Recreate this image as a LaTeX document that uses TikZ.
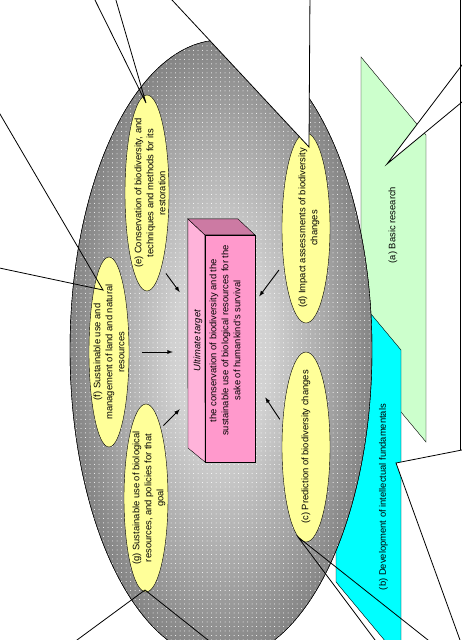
\documentclass[tikz,border=0pt]{standalone}
\usepackage{fontspec}
\setmainfont{Liberation Sans}
\usetikzlibrary{shapes.geometric,patterns.meta,calc}

\definecolor{goalyellow}{HTML}{FFFF99}
\definecolor{frontpink}{HTML}{FF99CC}
\definecolor{toppink}{HTML}{CC7AA3}
\definecolor{sidepink}{HTML}{FFB3DA}
\definecolor{basicgreen}{HTML}{CCFFCC}
\definecolor{fundcyan}{HTML}{00FFFF}

\pgfdeclareradialshading{eggglow}{\pgfpoint{0bp}{0bp}}{color(0bp)=(gray!30); color(8bp)=(gray!36); color(18bp)=(gray!70); color(26bp)=(gray); color(50bp)=(gray)}

\tikzset{
  goal/.style={ellipse, draw, fill=goalyellow, inner sep=0pt, minimum width=46pt, minimum height=192pt},
  goaltext/.style={rotate=90, align=center, inner sep=0pt, font=\fontsize{9.4}{12}\selectfont},
  feed/.style={->, line width=0.9pt},
  callout/.style={line width=0.8pt}
}

\begin{document}
\begin{tikzpicture}[x=1pt, y=-1pt, >=latex]
\useasboundingbox (0,0) rectangle (462,640);
\clip (0,0) rectangle (462,640);

% research layers behind the egg
\filldraw[fill=basicgreen] (361,57) -- (426,135) -- (426,442) -- (361,364) -- cycle;
\filldraw[fill=fundcyan] (336,272) -- (401,350) -- (401,660) -- (336,582) -- cycle;
\node[goaltext] (basic) at (393,225) {(a) Basic research};
\node[goaltext] (fund) at (383.5,497) {(b) Development of intellectual fundamentals};

% the egg
\shadedraw[shading=eggglow] (221,350) ellipse [x radius=151, y radius=310];
\fill[pattern={Dots[radius=0.5pt, distance=4.5pt]}, pattern color=white] (221,350) ellipse [x radius=151, y radius=310];
\draw (221,350) ellipse [x radius=151, y radius=310];

% goals
\node[goal, minimum width=44pt, minimum height=196pt] (e) at (147,193) {};
\node[goal, minimum width=48pt, minimum height=190pt] (d) at (306,228) {};
\node[goal, minimum width=40pt, minimum height=190pt] (f) at (109,352) {};
\node[goal, minimum width=44pt, minimum height=188pt] (g) at (146,498) {};
\node[goal, minimum width=48pt, minimum height=190pt] (c) at (306,447) {};

\node[goaltext] at ([xshift=3pt]e.center) {(e) Conservation of biodiversity, and\\techniques and methods for its\\restoration};
\node[goaltext] at ([xshift=3pt]d.center) {(d) Impact assessments of biodiversity\\changes};
\node[goaltext] at (f.center) {(f) Sustainable use and\\management of land and natural\\resources};
\node[goaltext] at ([xshift=3pt]g.center) {(g) Sustainable use of biological\\resources, and policies for that\\goal};
\node[goaltext] at (c.center) {(c) Prediction of biodiversity changes};

% ultimate target box
\node[minimum width=67pt, minimum height=243pt, inner sep=0pt] (target) at (221.5,340.5) {};
\filldraw[fill=sidepink] (target.north west) -- ++(17,16) -- (205,462) -- (188,448) -- cycle;
\filldraw[fill=toppink] (target.north west) -- ++(50,0) -- ++(17,16) -- ++(-50,0) -- cycle;
\filldraw[fill=frontpink] ([shift={(17,16)}]target.north west) rectangle (target.south east);
\node[goaltext] at ([xshift=-4.5pt]target.center) {\textit{Ultimate target}\\[4pt]the conservation of biodiversity and the\\sustainable use of biological resources for the\\sake of humankind's survival};

% arrows into the target
\draw[feed, shorten <=7.5pt, shorten >=13.6pt] (e.-79) -- (target.132);
\draw[feed, shorten <=7.7pt, shorten >=6.7pt] (d.-122) -- (target.49);
\draw[feed, shorten <=13pt, shorten >=15pt] (f.east) -- (f.east -| target.west);
\draw[feed, shorten <=3.5pt, shorten >=11.3pt] (g.78) -- (target.-119);
\draw[feed, shorten <=5pt, shorten >=18.3pt] (c.135) -- (target.-51);

% callout tails
\coordinate (tipE) at (146,103);
\coordinate (tipF) at (103,290);
\coordinate (tipG) at (145,590);
\coordinate (tipC) at (298,537);
\coordinate (tipD) at (309,147);
\coordinate (tipA) at (387,164);
\coordinate (tipB) at (396,463);
\draw[callout] (90,-10) -- (tipE) -- (113,-10);
\draw[callout] (-10,97) -- (tipF) -- (-10,266);
\draw[callout] (63.4,650) -- (tipG) -- (220.6,650);
\draw[callout] (382.5,650) -- (tipC) -- (440.6,650);
\filldraw[callout, fill=white] (162.7,-10) -- (tipD) -- (310,-10);
\filldraw[callout, fill=white] (470,54.4) -- (tipA) -- (470,95.4);
\filldraw[callout, fill=white] (470,448.4) -- (tipB) -- (463.6,650);
\draw[callout] (460.5,-10) -- (460.5,450);
\end{tikzpicture}
\end{document}
